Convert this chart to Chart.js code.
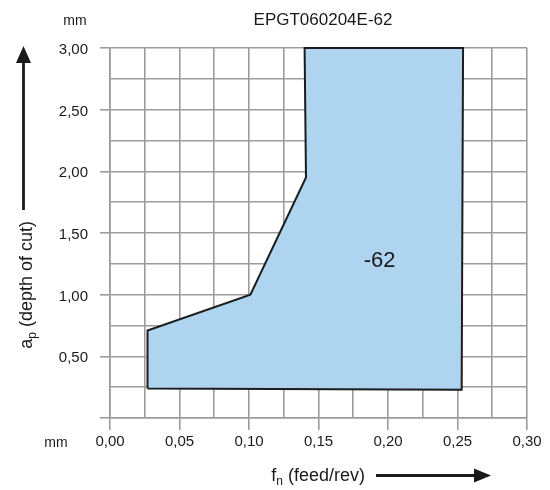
<!DOCTYPE html>
<html>
<head>
<meta charset="utf-8">
<script src="https://cdn.jsdelivr.net/npm/chart.js@4/dist/chart.umd.min.js"></script>
<style>
  html, body { margin: 0; padding: 0; background: #ffffff; }
  #wrap { width: 550px; height: 490px; }
</style>
</head>
<body>
<div id="wrap"><canvas id="chart" width="550" height="490"></canvas></div>
<script>
// Chip-breaking range of the insert: feed (mm/rev) against depth of cut (mm)
const chartTitle = 'EPGT060204E-62';
const regionName = '-62';

// Boundary of the application range, walked round and closed
const boundaryFeed  = [0.027, 0.027, 0.101, 0.141, 0.140, 0.254, 0.253, 0.027];
const boundaryDepth = [0.24,  0.71,  1.00,  1.95,  3.00,  3.00,  0.23,  0.24];

// Grid positions and their labels (blank = minor grid line)
const feedGrid   = [0, 0.025, 0.05, 0.075, 0.10, 0.125, 0.15, 0.175, 0.20, 0.225, 0.25, 0.275, 0.30];
const feedLabels = ['0,00', '', '0,05', '', '0,10', '', '0,15', '', '0,20', '', '0,25', '', '0,30'];
const depthGrid   = [0, 0.25, 0.5, 0.75, 1.0, 1.25, 1.5, 1.75, 2.0, 2.25, 2.5, 2.75, 3.0];
const depthLabels = ['', '', '0,50', '', '1,00', '', '1,50', '', '2,00', '', '2,50', '', '3,00'];

const FONT = "'Liberation Sans', Arial, Helvetica, sans-serif";
const INK = '#1a1a1a';
const GRID = '#9c9c9c';

Chart.defaults.font.family = FONT;
Chart.defaults.color = INK;

function arrowHead(c, tipX, tipY, dir, len, half) {
  c.beginPath();
  if (dir === 'up') {
    c.moveTo(tipX, tipY);
    c.lineTo(tipX - half, tipY + len);
    c.lineTo(tipX + half, tipY + len);
  } else {
    c.moveTo(tipX, tipY);
    c.lineTo(tipX - len, tipY - half);
    c.lineTo(tipX - len, tipY + half);
  }
  c.closePath();
  c.fill();
}

const decorations = {
  id: 'decorations',
  afterDatasetsDraw(chart) {
    const c = chart.ctx;
    const xs = chart.scales.x, ys = chart.scales.y;
    c.save();
    c.fillStyle = INK;
    c.font = '22px ' + FONT;
    c.textAlign = 'center';
    c.textBaseline = 'middle';
    c.fillText(regionName, xs.getPixelForValue(0.194), ys.getPixelForValue(1.27));
    c.restore();
  },
  afterDraw(chart) {
    const c = chart.ctx;
    c.save();
    c.fillStyle = INK;
    c.strokeStyle = INK;
    c.textBaseline = 'alphabetic';

    // heading and unit labels
    c.font = '17px ' + FONT;
    c.textAlign = 'center';
    c.fillText(chartTitle, 323, 25);
    c.font = '14px ' + FONT;
    c.fillText('mm', 75, 25);
    c.fillText('mm', 56, 447);

    // horizontal axis title: f with subscript n
    const big = '18px ' + FONT, small = '12px ' + FONT;
    c.font = big;
    const restX = ' (feed/rev)';
    const wF = c.measureText('f').width, wR = c.measureText(restX).width;
    c.font = small;
    const wN = c.measureText('n').width;
    let x0 = 365 - (wF + wN + wR);
    const base = 481;
    c.textAlign = 'left';
    c.font = big; c.fillText('f', x0, base);
    c.font = small; c.fillText('n', x0 + wF, base + 4);
    c.font = big; c.fillText(restX, x0 + wF + wN, base);

    // arrow along the feed axis
    c.lineWidth = 2.8;
    c.beginPath();
    c.moveTo(376, 475.5);
    c.lineTo(476, 475.5);
    c.stroke();
    arrowHead(c, 491, 475.5, 'right', 17, 7);

    // vertical axis title: a with subscript p, rotated
    c.save();
    c.translate(32, 221);
    c.rotate(-Math.PI / 2);
    c.font = big;
    const restY = ' (depth of cut)';
    const wA = c.measureText('a').width, wY = c.measureText(restY).width;
    c.font = small;
    const wP = c.measureText('p').width;
    let y0 = -(wA + wP + wY);
    c.font = big; c.fillText('a', y0, 0);
    c.font = small; c.fillText('p', y0 + wA, 4);
    c.font = big; c.fillText(restY, y0 + wA + wP, 0);
    c.restore();

    // arrow along the depth axis
    c.beginPath();
    c.moveTo(23.5, 210);
    c.lineTo(23.5, 62);
    c.stroke();
    arrowHead(c, 23.5, 46, 'up', 17, 7.5);

    c.restore();
  }
};

const majorTick = (ctx) => (ctx.index % 2 === 0 ? GRID : 'rgba(0,0,0,0)');

new Chart(document.getElementById('chart'), {
  type: 'scatter',
  data: {
    datasets: [{
      data: boundaryFeed.map((f, i) => ({ x: f, y: boundaryDepth[i] })),
      showLine: true,
      fill: 'shape',
      backgroundColor: '#aed4f0',
      borderColor: '#1c1c1c',
      borderWidth: 2,
      borderJoinStyle: 'miter',
      pointRadius: 0,
      tension: 0,
      clip: false
    }]
  },
  options: {
    responsive: false,
    devicePixelRatio: 1,
    animation: false,
    events: [],
    layout: { padding: { top: 48, right: 23, bottom: 0, left: 0 } },
    plugins: {
      legend: { display: false },
      tooltip: { enabled: false },
      title: { display: false }
    },
    scales: {
      x: {
        type: 'linear',
        min: 0,
        max: 0.30,
        afterBuildTicks: (s) => { s.ticks = feedGrid.map(v => ({ value: v })); },
        afterFit: (s) => { s.height = 72; },
        grid: { color: GRID, lineWidth: 1.6, tickLength: 12, tickColor: majorTick, tickWidth: 1.6 },
        border: { color: GRID, width: 1.6 },
        ticks: {
          autoSkip: false,
          maxRotation: 0,
          padding: 3,
          font: { size: 15 },
          color: INK,
          callback: (v, i) => feedLabels[i]
        }
      },
      y: {
        type: 'linear',
        min: 0,
        max: 3,
        afterBuildTicks: (s) => { s.ticks = depthGrid.map(v => ({ value: v })); },
        afterFit: (s) => { s.width = 110; },
        grid: { color: GRID, lineWidth: 1.6, tickLength: 10, tickColor: majorTick, tickWidth: 1.6 },
        border: { color: GRID, width: 1.6 },
        ticks: {
          autoSkip: false,
          padding: 12,
          labelOffset: 2,
          font: { size: 15 },
          color: INK,
          callback: (v, i) => depthLabels[i]
        }
      }
    }
  },
  plugins: [decorations]
});
</script>
</body>
</html>
